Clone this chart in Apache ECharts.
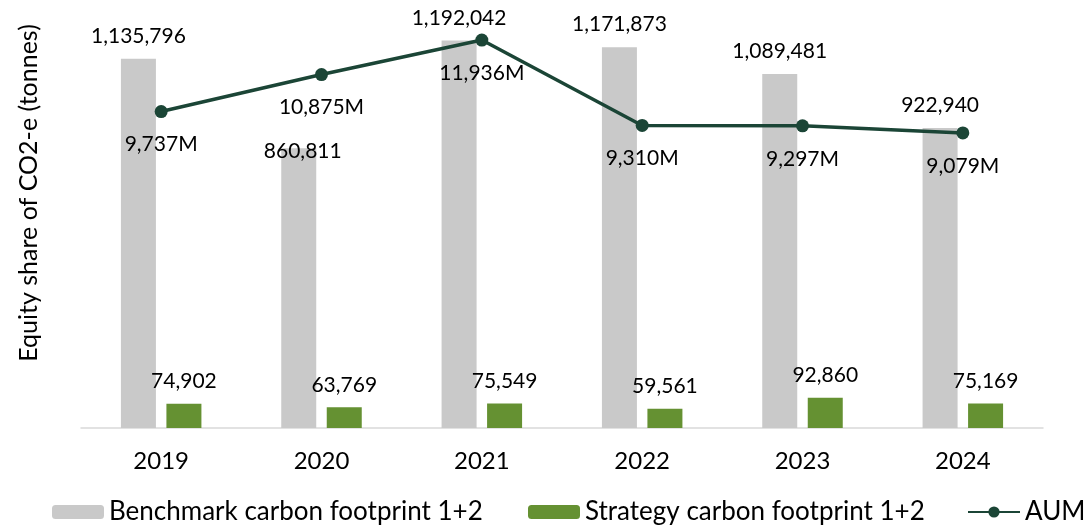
<!DOCTYPE html>
<html>
<head>
<meta charset="utf-8">
<script src="https://cdn.jsdelivr.net/npm/echarts@6/dist/echarts.min.js"></script>
<style>
    html, body {margin: 0; padding: 0; background: #fff;}
    #mychart {width: 1087px; height: 528px;}
</style>
</head>
<body>
<div id="mychart"></div>
<script>
var years = ['2019', '2020', '2021', '2022', '2023', '2024'];
var benchmark = [1135796, 860811, 1192042, 1171873, 1089481, 922940];
var strategy = [74902, 63769, 75549, 59561, 92860, 75169];
var aum = [9737, 10875, 11936, 9310, 9297, 9079];

var fontName = 'Lato';

function fmt(v) {
    return v.toLocaleString('en-US');
}

// 2020 benchmark label sits down on the bar top in the original
var benchmarkData = benchmark.map(function (v, i) {
    if (i === 1) {
        return {value: v, label: {offset: [4, 25]}};
    }
    return v;
});

function legendAt(left, name) {
    return {
        left: left,
        top: 494,
        itemWidth: 52,
        itemHeight: 14,
        textStyle: {fontFamily: fontName, fontSize: 26, color: '#000'},
        data: [name]
    };
}

var option = {
    animation: false,
    textStyle: {fontFamily: fontName, color: '#000'},
    grid: {
        left: 81,
        right: 44,
        top: 38,
        bottom: 100
    },
    legend: [
        legendAt(47, 'Benchmark carbon footprint 1+2'),
        legendAt(523, 'Strategy carbon footprint 1+2'),
        legendAt(962, 'AUM')
    ],
    graphic: [
        {
            type: 'text',
            x: 29,
            y: 193,
            rotation: Math.PI / 2,
            style: {
                text: 'Equity share of CO2-e (tonnes)',
                font: '25px Lato',
                fill: '#000',
                align: 'center',
                verticalAlign: 'middle'
            }
        }
    ],
    xAxis: {
        type: 'category',
        data: years,
        axisTick: {show: false},
        axisLine: {lineStyle: {color: '#d9d9d9', width: 1.5}},
        axisLabel: {fontFamily: fontName, fontSize: 24, color: '#000', margin: 21}
    },
    yAxis: [
        {
            type: 'value',
            min: 0,
            max: 1200000,
            show: false
        },
        {
            type: 'value',
            min: 0,
            max: 12000,
            show: false
        }
    ],
    series: [
        {
            name: 'Benchmark carbon footprint 1+2',
            type: 'bar',
            barWidth: 35,
            barGap: '30%',
            itemStyle: {color: '#c9c9c9'},
            label: {
                show: true,
                position: 'top',
                distance: 12,
                fontFamily: fontName,
                fontSize: 21,
                color: '#000',
                formatter: function (p) { return fmt(p.value); }
            },
            data: benchmarkData
        },
        {
            name: 'Strategy carbon footprint 1+2',
            type: 'bar',
            barWidth: 35,
            itemStyle: {color: '#659132'},
            label: {
                show: true,
                position: 'top',
                distance: 12,
                fontFamily: fontName,
                fontSize: 21,
                color: '#000',
                formatter: function (p) { return fmt(p.value); }
            },
            data: strategy
        },
        {
            name: 'AUM',
            type: 'line',
            yAxisIndex: 1,
            symbol: 'circle',
            symbolSize: 13,
            itemStyle: {color: '#1b4536'},
            lineStyle: {color: '#1b4536', width: 3.5},
            label: {
                show: true,
                position: 'bottom',
                distance: 16,
                fontFamily: fontName,
                fontSize: 21,
                color: '#000',
                formatter: function (p) { return fmt(p.value) + 'M'; }
            },
            data: aum
        }
    ]
};

var mychart = echarts.init(document.getElementById('mychart'));
mychart.setOption(option);
</script>
</body>
</html>
